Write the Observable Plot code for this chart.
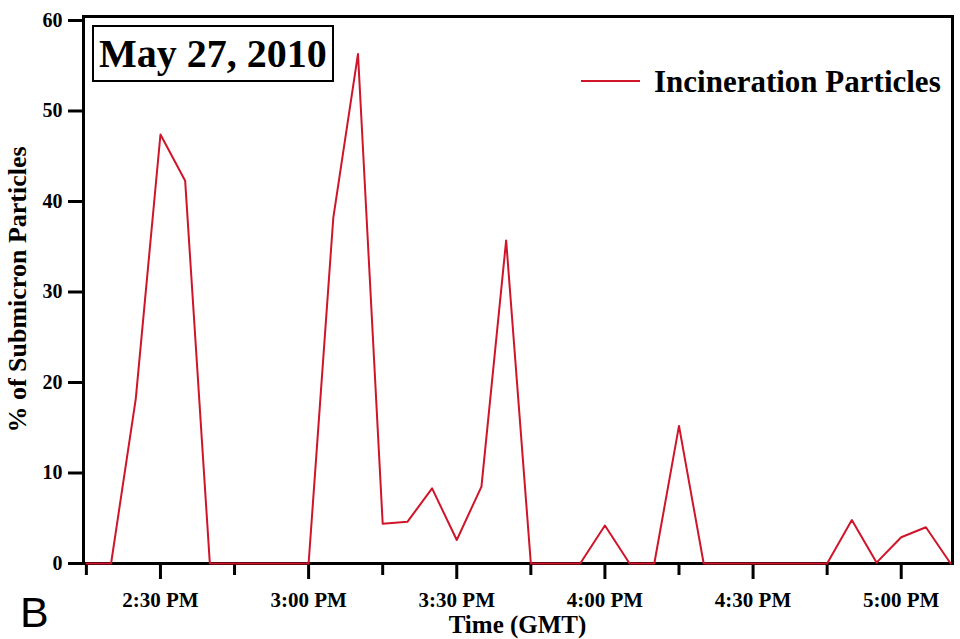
<!DOCTYPE html>
<html>
<head>
<meta charset="utf-8">
<script src="https://cdn.jsdelivr.net/npm/d3@7"></script>
<script src="https://cdn.jsdelivr.net/npm/@observablehq/plot@0.6"></script>
<style>
  html, body { margin: 0; padding: 0; background: #fff; }
  #chart { width: 960px; height: 639px; }
</style>
</head>
<body>
<div id="chart"></div>
<script>
// ---- data ----
const times = [
  "14:15","14:20","14:25","14:30","14:35","14:40","14:45","14:50","14:55",
  "15:00","15:05","15:10","15:15","15:20","15:25","15:30","15:35","15:40",
  "15:45","15:50","15:55","16:00","16:05","16:10","16:15","16:20","16:25",
  "16:30","16:35","16:40","16:45","16:50","16:55","17:00","17:05","17:10"
];
const incineration = [
  0, 0, 18.2, 47.4, 42.3, 0, 0, 0, 0,
  0, 38.2, 56.3, 4.4, 4.6, 8.3, 2.6, 8.5, 35.7,
  0, 0, 0, 4.2, 0, 0, 15.2, 0, 0,
  0, 0, 0, 0, 4.8, 0.1, 2.9, 4.0, 0
];
const majorTickTimes = ["14:30","15:00","15:30","16:00","16:30","17:00"];
const minorTickTimes = ["14:15","14:45","15:15","15:45","16:15","16:45"];
const yTicks = [0, 10, 20, 30, 40, 50, 60];
const xDomainTimes = ["14:14:25", "17:10:23"];
const yDomain = [0, 60.44];
const seriesName = "Incineration Particles";
const dateLabel = "May 27, 2010";
const xLabel = "Time (GMT)";
const yLabel = "% of Submicron Particles";
const panelLetter = "B";

// ---- build ----
const parseHM = d3.utcParse("%H:%M");
const parseHMS = d3.utcParse("%H:%M:%S");
const data = times.map((t, i) => ({time: parseHM(t), value: incineration[i]}));
const majorTicks = majorTickTimes.map(parseHM);
const minorTicks = minorTickTimes.map(parseHM);
const fmt = d3.utcFormat("%-I:%M %p");

const W = 960, H = 639;
const mL = 83, mT = 16, mR = 8, mB = 76;
const serif = "'Liberation Serif', 'Times New Roman', serif";
const red = "#d0142a";

const plot = Plot.plot({
  width: W,
  height: H,
  marginLeft: mL,
  marginTop: mT,
  marginRight: mR,
  marginBottom: mB,
  style: {fontFamily: serif, fontWeight: "bold", color: "black", background: "white", overflow: "visible"},
  x: {type: "utc", domain: xDomainTimes.map(parseHMS)},
  y: {domain: yDomain},
  marks: [
    Plot.axisY(yTicks, {tickSize: 15, tickPadding: 6, strokeWidth: 3, fontSize: 20, fontWeight: "bold", fontFamily: serif, label: null}),
    Plot.axisX(majorTicks, {tickSize: 16, tickPadding: 13, strokeWidth: 3, fontSize: 21, fontWeight: "bold", fontFamily: serif, tickFormat: fmt, label: null}),
    Plot.axisX(minorTicks, {tickSize: 12, strokeWidth: 3, tickFormat: () => "", label: null}),
    Plot.frame({stroke: "black", strokeWidth: 3}),
    Plot.lineY(data, {x: "time", y: "value", stroke: red, strokeWidth: 2})
  ]
});
document.getElementById("chart").appendChild(plot);

// ---- annotations (titles, legend, labels) ----
const svg = d3.select(plot);
const g = svg.append("g").attr("text-anchor", "start");

// date box
g.append("rect").attr("x", 93).attr("y", 26).attr("width", 240).attr("height", 55)
  .attr("fill", "white").attr("stroke", "black").attr("stroke-width", 2);
g.append("text").attr("x", 213).attr("y", 67).attr("text-anchor", "middle")
  .attr("font-family", serif).attr("font-weight", "bold").attr("font-size", 40)
  .attr("fill", "black").text(dateLabel);

// legend
g.append("line").attr("x1", 581).attr("x2", 640).attr("y1", 81).attr("y2", 81)
  .attr("stroke", red).attr("stroke-width", 2);
g.append("text").attr("x", 654).attr("y", 92).attr("text-anchor", "start")
  .attr("font-family", serif).attr("font-weight", "bold").attr("font-size", 31)
  .attr("fill", "black").text(seriesName);

// axis labels
g.append("text").attr("transform", `translate(26,${(mT + H - mB) / 2}) rotate(-90)`)
  .attr("text-anchor", "middle")
  .attr("font-family", serif).attr("font-weight", "bold").attr("font-size", 26)
  .attr("fill", "black").text(yLabel);
g.append("text").attr("x", (mL + W - mR) / 2).attr("y", 633).attr("text-anchor", "middle")
  .attr("font-family", serif).attr("font-weight", "bold").attr("font-size", 25)
  .attr("fill", "black").text(xLabel);

// panel letter
g.append("text").attr("x", 20).attr("y", 627).attr("text-anchor", "start")
  .attr("font-family", "'Liberation Sans', Arial, sans-serif").attr("font-weight", "normal").attr("font-size", 43)
  .attr("fill", "black").text(panelLetter);
</script>
</body>
</html>
